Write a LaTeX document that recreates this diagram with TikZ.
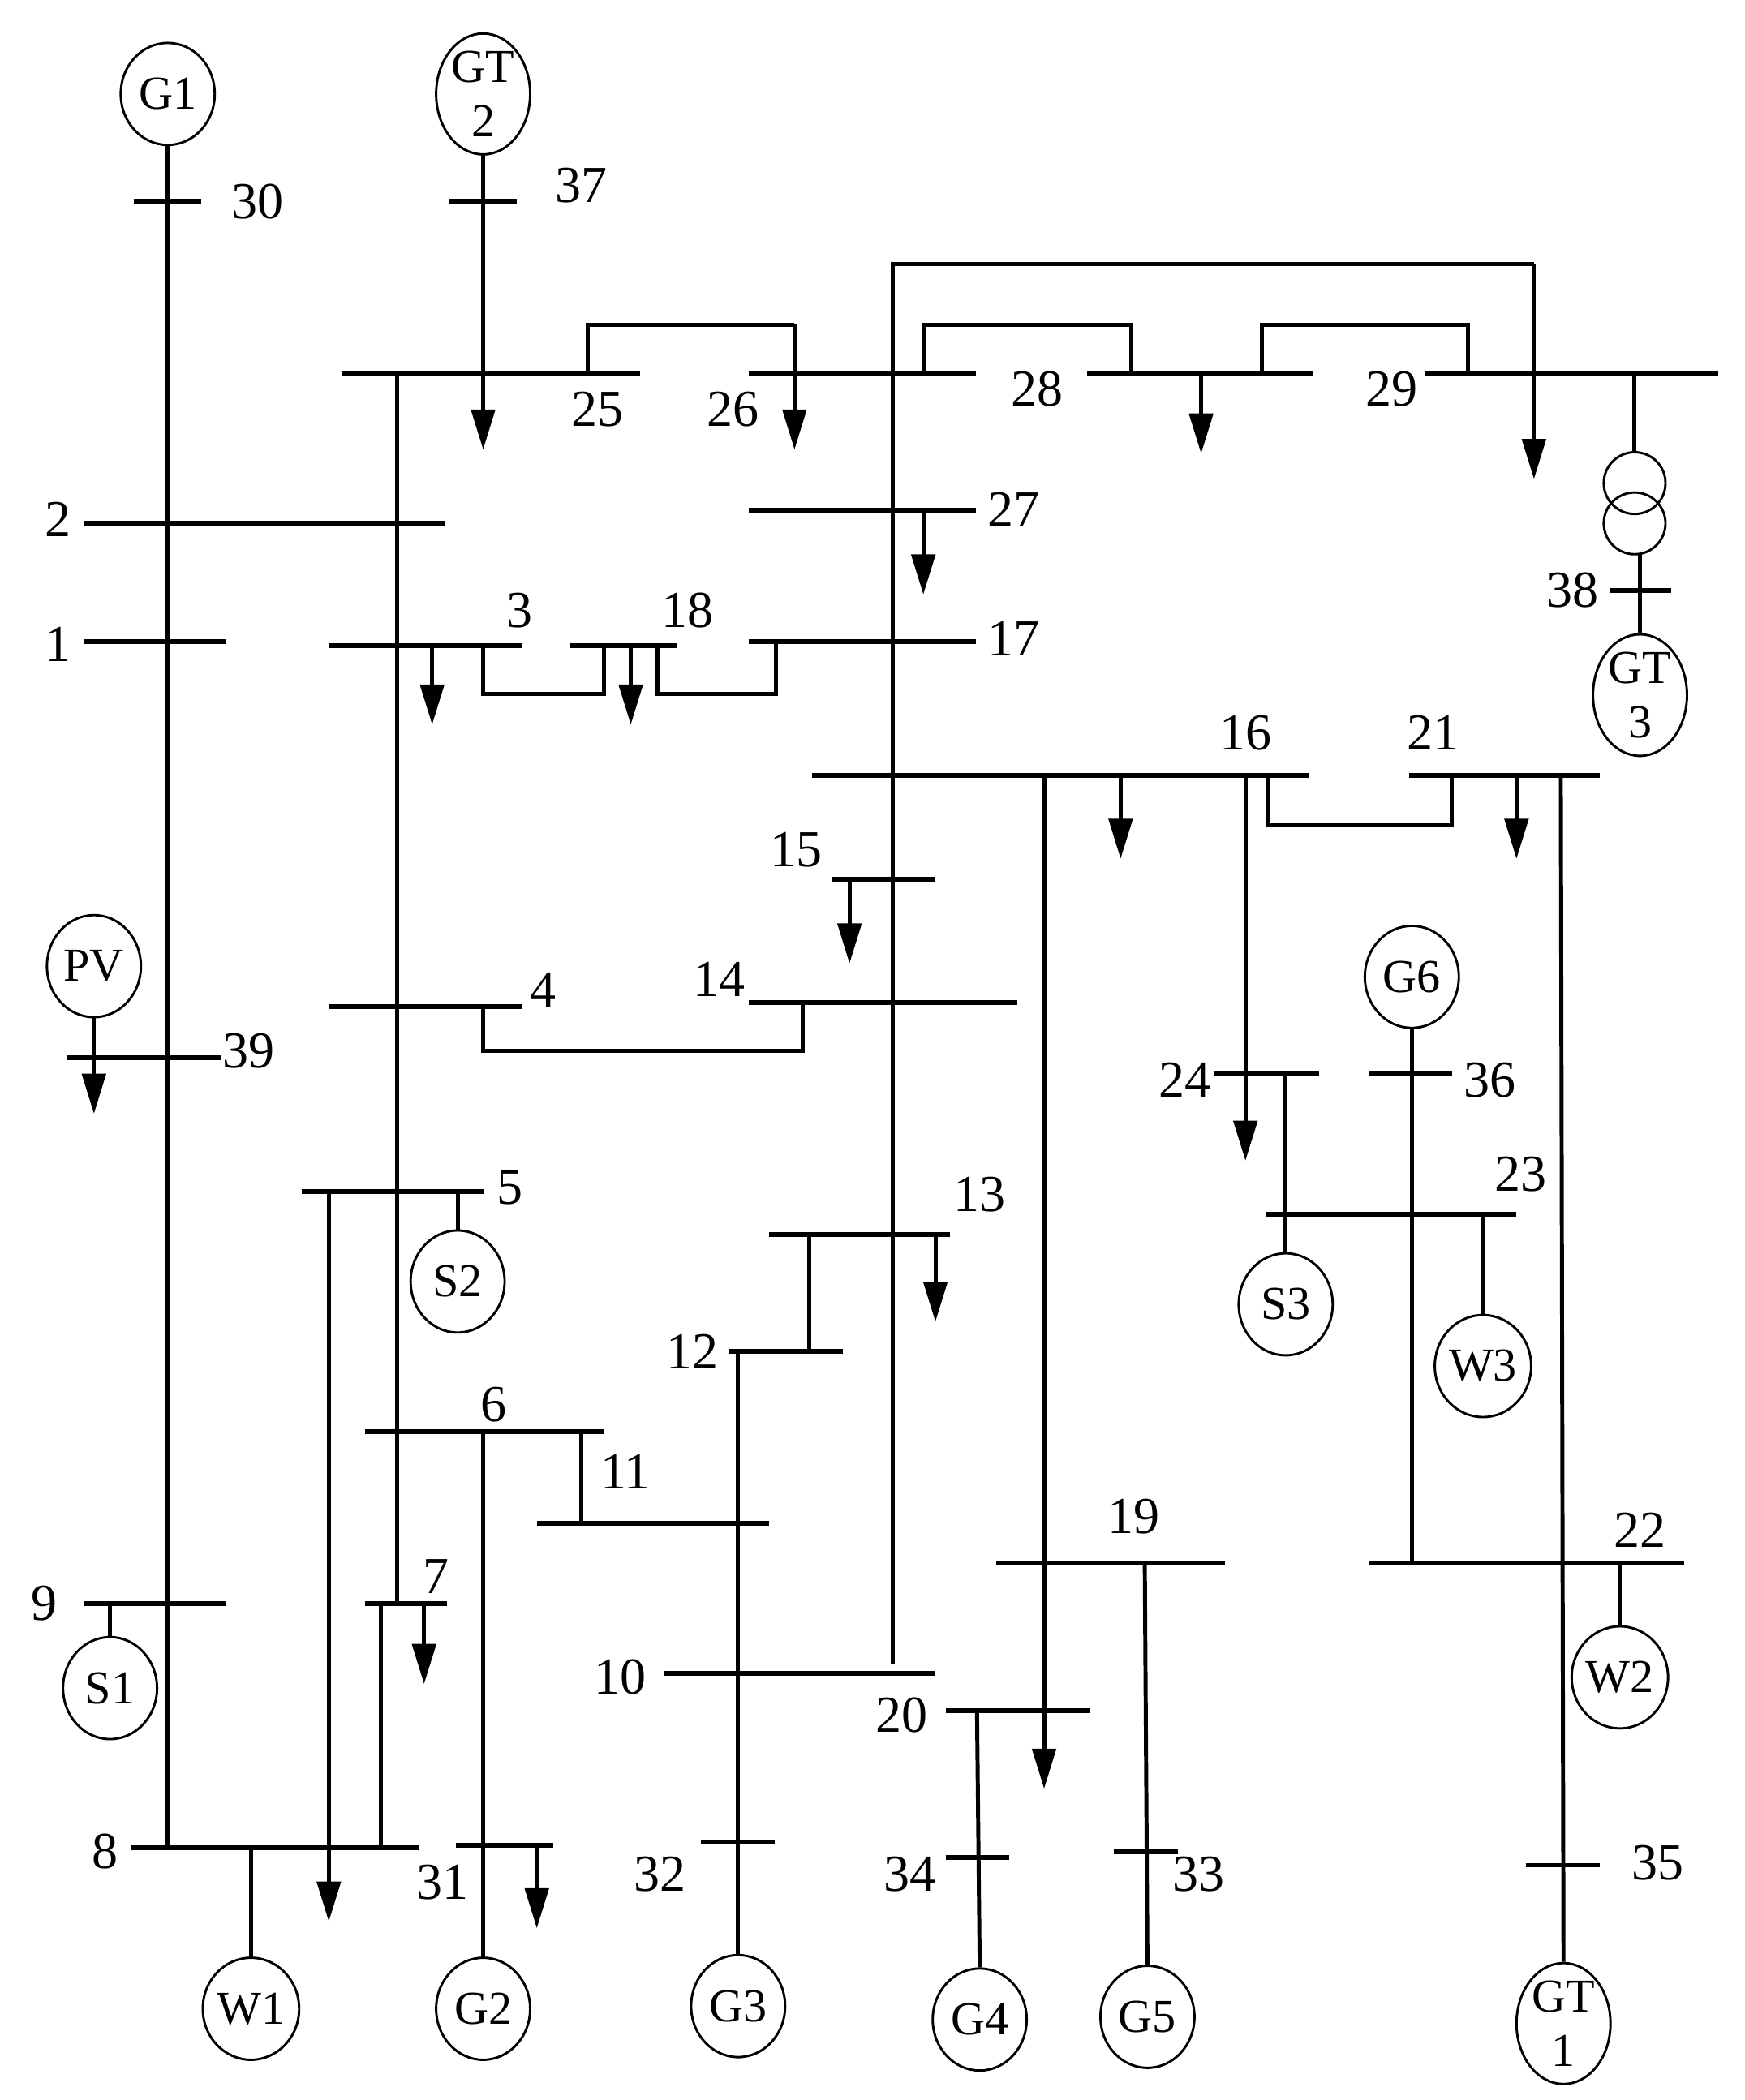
\documentclass[tikz,border=0pt]{standalone}
\usepackage{fontspec}
\setmainfont{Liberation Serif}
\usetikzlibrary{arrows.meta,shapes.geometric}
\begin{document}
\begin{tikzpicture}[x=0.01cm,y=-0.01cm,line width=0.85pt,
  gen/.style={draw,ellipse,minimum width=0.7cm,minimum height=0.76cm,inner sep=0pt,font=\fontsize{10}{10}\selectfont,align=center,line width=0.5pt},
  gt/.style={gen,minimum height=0.82cm,font=\fontsize{10}{11.5}\selectfont},
  lbl/.style={font=\fontsize{11}{11}\selectfont,inner sep=0pt},
  ld/.style={-{Triangle[length=8.5pt,width=5pt]}},
  bus/.style={line width=1pt}]
\useasboundingbox (0,0) rectangle (1300,1565);
% generators
\node[gen] (G1) at (125,70) {G1};
\node[gt] (GT2) at (360,70) {GT\\2};
\node[gen] (PV) at (70,720) {PV};
\node[gen] (S2) at (341,955) {S2};
\node[gen] (S1) at (82,1258) {S1};
\node[gen] (W1) at (187,1497) {W1};
\node[gen] (G2) at (360,1497) {G2};
\node[gen] (G3) at (550,1495) {G3};
\node[gen] (G4) at (730,1505) {G4};
\node[gen] (G5) at (855,1503) {G5};
\node[gt] (GT1) at (1165,1508) {GT\\1};
\node[gen] (G6) at (1052,728) {G6};
\node[gen] (S3) at (958,972) {S3};
\node[gen] (W3) at (1105,1018) {W3};
\node[gen] (W2) at (1207,1250) {W2};
\node[gt] (GT3) at (1222,518) {GT\\3};
\draw[line width=0.5pt] (1218,360) circle (0.23cm) (1218,390) circle (0.23cm);
% buses
\draw[bus] (100,150)--(150,150) (335,150)--(385,150)
 (255,278)--(477,278) (558,278)--(727,278) (810,278)--(978,278) (1062,278)--(1280,278)
 (63,390)--(332,390) (63,478)--(168,478) (50,788)--(165,788) (63,1195)--(168,1195)
 (98,1377)--(312,1377) (1200,440)--(1245,440)
 (558,380)--(727,380) (558,478)--(727,478) (245,481)--(389,481) (425,481)--(505,481)
 (605,578)--(975,578) (1050,578)--(1192,578) (620,655)--(697,655) (558,747)--(758,747)
 (245,750)--(389,750) (225,888)--(360,888) (272,1067)--(450,1067) (400,1135)--(573,1135)
 (573,920)--(708,920) (543,1007)--(628,1007) (522,1373)--(577,1373) (495,1247)--(697,1247)
 (705,1275)--(812,1275) (705,1384)--(752,1384) (742,1165)--(913,1165) (830,1380)--(878,1380)
 (340,1375)--(412,1375) (905,800)--(983,800) (943,905)--(1130,905) (1020,800)--(1082,800)
 (1020,1165)--(1255,1165) (1137,1390)--(1192,1390) (272,1195)--(333,1195);
% lines
\draw (G1.south)--(125,1377);
\draw[ld] (GT2.south)--(360,335);
\draw (296,278)--(296,1195);
\draw (284,1195)--(284,1377);
\draw (438,278)--(438,242)--(592,242);
\draw[ld] (592,242)--(592,335);
\draw (688,278)--(688,242)--(843,242)--(843,278);
\draw (940,278)--(940,242)--(1094,242)--(1094,278);
\draw[ld] (895,278)--(895,338);
\draw (665,1240)--(665,197)--(1143,197);
\draw[ld] (1143,197)--(1143,357);
\draw (1218,278)--(1218,337);
\draw (1222,413)--(GT3.north);
\draw[ld] (688,380)--(688,443);
\draw[ld] (322,481)--(322,540);
\draw (360,481)--(360,517)--(450,517)--(450,481);
\draw[ld] (470,481)--(470,540);
\draw (490,481)--(490,517)--(578,517)--(578,478);
\draw[ld] (835,578)--(835,640);
\draw[ld] (778,578)--(778,1333);
\draw[ld] (928,578)--(928,865);
\draw (945,578)--(945,615)--(1082,615)--(1082,578);
\draw[ld] (1130,578)--(1130,640);
\draw (1163,578)--(GT1.north);
\draw[ld] (633,655)--(633,718);
\draw (598,747)--(598,783)--(360,783)--(360,750);
\draw[ld] (PV.south)--(70,830);
\draw[ld] (245,888)--(245,1432);
\draw (341,888)--(S2.north);
\draw (82,1195)--(S1.north);
\draw (187,1377)--(W1.north);
\draw[ld] (316,1195)--(316,1255);
\draw (360,1067)--(G2.north);
\draw (433,1067)--(433,1135);
\draw[ld] (697,920)--(697,985);
\draw (603,920)--(603,1007);
\draw (550,1007)--(G3.north);
\draw (728,1275)--(G4.north);
\draw (853,1165)--(G5.north);
\draw[ld] (400,1375)--(400,1437);
\draw (958,800)--(958,905);
\draw (958,905)--(S3.north);
\draw (1105,905)--(W3.north);
\draw (G6.south)--(1052,1165);
\draw (1207,1165)--(W2.north);
% labels
\foreach \t/\x/\y in {30/192/150,37/433/138,25/445/305,26/546/305,28/773/290,29/1037/290,
 2/43/387,1/43/480,39/185/783,9/33/1195,8/78/1380,38/1172/440,27/755/380,17/755/476,
 3/387/455,18/512/455,16/928/546,21/1068/546,15/593/633,14/536/730,4/405/738,5/380/885,
 6/368/1047,11/466/1097,13/730/890,12/516/1007,32/492/1397,10/462/1250,20/672/1278,
 34/678/1397,19/845/1130,33/893/1397,31/330/1403,24/883/805,23/1133/875,36/1110/805,
 22/1222/1140,35/1235/1388,7/325/1175}
 \node[lbl] at (\x,\y) {\t};
\end{tikzpicture}
\end{document}
